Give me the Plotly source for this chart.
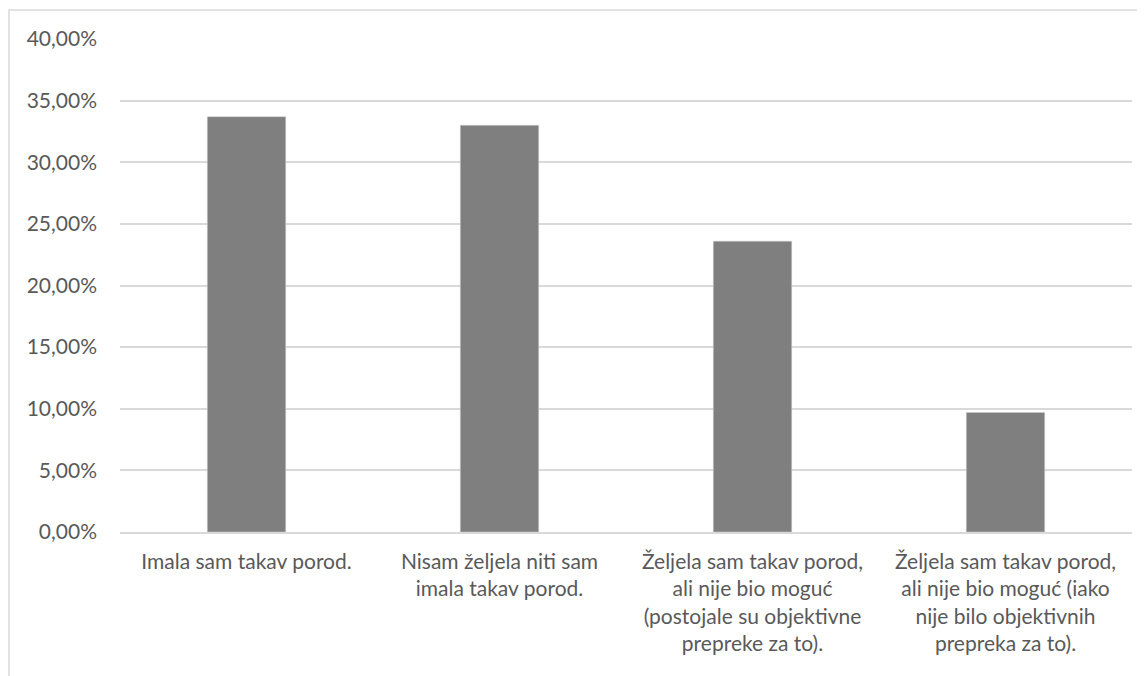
import plotly.graph_objects as go

categories = [
    "Imala sam takav porod.",
    "Nisam željela niti sam<br>imala takav porod.",
    "Željela sam takav porod,<br>ali nije bio moguć<br>(postojale su objektivne<br>prepreke za to).",
    "Željela sam takav porod,<br>ali nije bio moguć (iako<br>nije bilo objektivnih<br>prepreka za to).",
]
values = [0.337, 0.330, 0.236, 0.097]
tick_vals = [0, 0.05, 0.10, 0.15, 0.20, 0.25, 0.30, 0.35, 0.40]
tick_text = ["0,00%", "5,00%", "10,00%", "15,00%", "20,00%", "25,00%", "30,00%", "35,00%", "40,00%"]

W, H = 1137, 668
L, R, T, B = 112, 13, 31, 144
pw, ph = W - L - R, H - T - B

fig = go.Figure(go.Bar(
    x=categories, y=values,
    marker=dict(color="#7f7f7f", line=dict(color="#d0d0d0", width=0.5)),
))

fig.update_layout(
    width=W, height=H,
    margin=dict(l=L, r=R, t=T, b=B, autoexpand=False),
    plot_bgcolor="white", paper_bgcolor="white",
    bargap=0.69,
    showlegend=False,
    font=dict(family="Lato, Carlito, sans-serif", size=21, color="#595959"),
    xaxis=dict(
        showgrid=False, zeroline=False, showline=True,
        linecolor="#d9d9d9", linewidth=1.5,
        tickfont=dict(size=21, color="#595959"),
        ticklabelstandoff=10, tickangle=0,
    ),
    yaxis=dict(
        range=[0, 0.40], tickvals=tick_vals, ticktext=tick_text,
        showgrid=True, gridcolor="#d9d9d9", gridwidth=1.5,
        zeroline=False, showline=False,
        tickfont=dict(size=21, color="#595959"),
        ticklabelstandoff=22,
    ),
    shapes=[dict(
        type="rect", xref="paper", yref="paper",
        x0=(1 - L) / pw, x1=(W + 20 - L) / pw,
        y0=-(H + 20 - T - ph) / ph, y1=1 + (T - 2) / ph,
        line=dict(color="#d9d9d9", width=1.5), fillcolor="rgba(0,0,0,0)",
        layer="below",
    )],
)

fig.write_html("out.html")
